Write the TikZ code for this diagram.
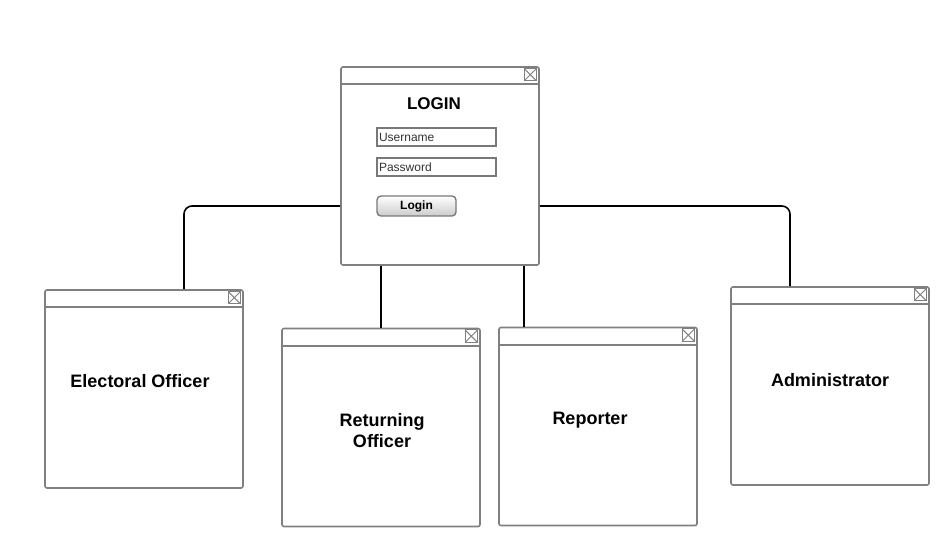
\documentclass[tikz,border=0pt]{standalone}
\usepackage{fontspec}
\setmainfont{Liberation Sans}
\definecolor{framegray}{RGB}{128,128,128}
\definecolor{fieldgray}{RGB}{120,120,120}
\tikzset{
  window/.style={draw=framegray, line width=1.6pt, rounded corners=2pt, fill=white,
    minimum width=198pt, minimum height=198pt, inner sep=0pt},
  winline/.style={draw=framegray, line width=1.6pt},
  closebox/.style={draw=framegray, line width=1pt, minimum size=12.5pt, inner sep=0pt,
    path picture={\draw[framegray, line width=1pt]
      (path picture bounding box.north west) -- (path picture bounding box.south east)
      (path picture bounding box.north east) -- (path picture bounding box.south west);}},
  link/.style={draw=black, line width=1.6pt, rounded corners=8pt},
  title/.style={font=\bfseries\fontsize{18}{21}\selectfont, align=center},
  field/.style={draw=fieldgray, line width=1.4pt, minimum width=119pt, minimum height=18pt,
    inner sep=2pt, text width=115pt, align=left, font=\fontsize{12}{14}\selectfont, text=black!80},
  button/.style={draw=fieldgray, line width=1.4pt, rounded corners=4pt, minimum width=79pt,
    minimum height=20pt, inner sep=0pt, top color=white, bottom color=black!20,
    font=\bfseries\fontsize{12}{14}\selectfont}
}
\begin{document}
\begin{tikzpicture}[x=1pt, y=-1pt]
	\useasboundingbox (0,0) rectangle (950,548);

	% windows with title bar and close box
	\foreach \n/\x/\y in {login/440/166, elect/144/389, ret/381/427.5, rep/598/426.5, admin/830/386} {
		\node[window] (\n) at (\x,\y) {};
		\draw[winline] ([yshift=-18pt]\n.north west) -- ([yshift=-18pt]\n.north east);
		\node[closebox] (\n-close) at ([xshift=-9.5pt,yshift=-8.5pt]\n.north east) {};
	}

	% login form
	\node[title, font=\bfseries\fontsize{17}{21}\selectfont] (logintitle) at (434,104) {LOGIN};
	\node[field] (user) at (436.5,137) {Username};
	\node[field] (pass) at (436.5,167) {Password};
	\node[button] (loginbtn) at (416.5,206) {Login};

	% role labels
	\node[title] (electlabel) at (140,381) {Electoral Officer};
	\node[title] (retlabel) at (382,431) {Returning\\Officer};
	\node[title] (replabel) at (590,420) {Reporter};
	\node[title] (adminlabel) at (830,380) {Administrator};

	% connectors
	\draw[link] ([yshift=-40pt]login.west) -| ([xshift=40pt]elect.north);
	\draw[link] ([yshift=-40pt]login.east) -| ([xshift=-40pt]admin.north);
	\draw[link] ([xshift=-59pt]login.south) -- (ret.north);
	\draw[link] ([xshift=84pt]login.south) -- ([xshift=84pt]login.south |- rep.north);
\end{tikzpicture}
\end{document}
